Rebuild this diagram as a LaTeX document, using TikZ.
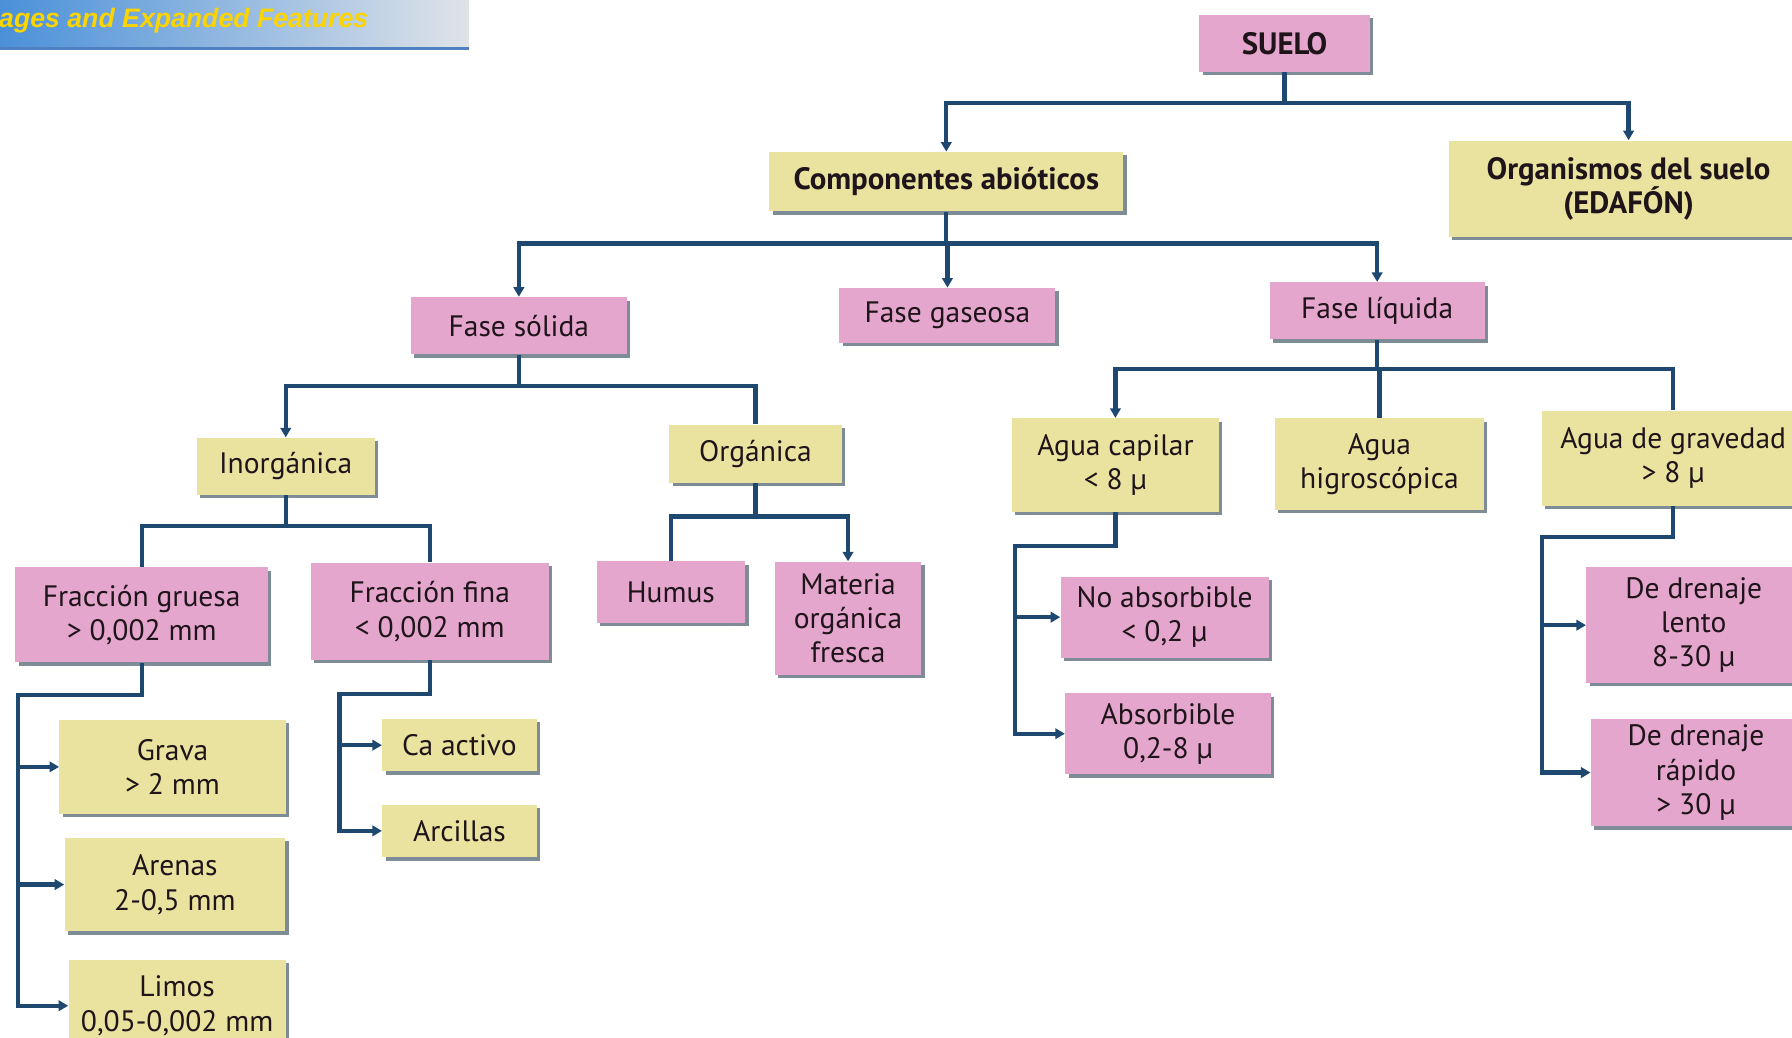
\documentclass[tikz,border=0pt]{standalone}
\usepackage{fontspec}
\setmainfont{PT Sans}
\newfontfamily\hdrfont{Liberation Sans}
\usetikzlibrary{shadows,arrows.meta,calc}

\definecolor{pinkbox}{RGB}{229,166,206}
\definecolor{yellowbox}{RGB}{234,227,160}
\definecolor{connc}{RGB}{30,72,112}
\definecolor{shadowc}{RGB}{125,140,150}
\definecolor{txt}{RGB}{30,20,25}
\definecolor{hdrL}{RGB}{74,144,217}
\definecolor{hdrR}{RGB}{223,227,232}
\definecolor{hdrline}{RGB}{80,128,192}
\definecolor{hdrtext}{RGB}{252,212,0}

\tikzset{
 box/.style={draw=none, align=center, inner sep=2pt, text=txt,
   font=\fontsize{15.5}{18}\selectfont,
   drop shadow={shadow xshift=1.8pt, shadow yshift=-1.8pt, fill=shadowc, opacity=1}},
 pbox/.style={box, fill=pinkbox},
 ybox/.style={box, fill=yellowbox},
 bbold/.style={font=\fontsize{16.2}{18}\selectfont\bfseries},
 sz/.style 2 args={minimum width=#1*0.6pt, minimum height=#2*0.6pt},
 link/.style={draw=connc, line width=2.3pt},
 arr/.style={link, -{Triangle[length=5pt,width=5.5pt]}},
}

\begin{document}
\begin{tikzpicture}[x=0.6pt,y=-0.6pt]
\useasboundingbox (0,0) rectangle (1568,908);
\clip (0,0) rectangle (1568,908);
\fill[white] (0,0) rectangle (1568,908);

% header banner
\shade[left color=hdrL, right color=hdrR] (0,0) rectangle (410,42);
\draw[hdrline, line width=1.2pt] (0,42.5) -- (410,42.5);
\node[anchor=base west, inner sep=0pt, text=hdrtext, font=\hdrfont\fontsize{14}{16}\selectfont\bfseries\itshape] (hdr) at (-1,24) {ages and Expanded Features};

% nodes
\node[pbox, bbold, sz={149}{50}] (suelo) at (1124,38) {SUELO};
\node[ybox, bbold, sz={310}{52}] (comp) at (828,159) {Componentes abióticos};
\node[ybox, bbold, sz={315}{84}] (org) at (1425,165) {Organismos del suelo\\(EDAFÓN)};

\node[pbox, sz={189}{50}] (solida) at (454,285) {Fase sólida};
\node[pbox, sz={189}{48}] (gaseosa) at (829,276) {Fase gaseosa};
\node[pbox, sz={188}{50}] (liquida) at (1205,272) {Fase líquida};

\node[ybox, sz={156}{50}] (inorg) at (250,408) {Inorgánica};
\node[ybox, sz={151}{51}] (organica) at (661,397) {Orgánica};

\node[pbox, sz={221}{83}] (gruesa) at (124,538) {Fracción gruesa\\> 0,002 mm};
\node[pbox, sz={208}{85}] (fina) at (376,535) {Fracción fina\\< 0,002 mm};
\node[pbox, sz={130}{54}] (humus) at (587,518) {Humus};
\node[pbox, sz={128}{99}] (materia) at (742,541) {Materia\\orgánica\\fresca};

\node[ybox, sz={181}{82}] (capilar) at (976,407) {Agua capilar\\< 8 µ};
\node[ybox, sz={183}{80}] (higro) at (1207,406) {Agua\\higroscópica};
\node[ybox, sz={230}{83}] (gravedad) at (1464,401) {Agua de gravedad\\> 8 µ};

\node[ybox, sz={198}{82}] (grava) at (151,671) {Grava\\> 2 mm};
\node[ybox, sz={193}{82}] (arenas) at (153,774) {Arenas\\2-0,5 mm};
\node[ybox, sz={190}{80}] (limos) at (155,880) {Limos\\0,05-0,002 mm};

\node[ybox, sz={135}{46}] (caactivo) at (402,652) {Ca activo};
\node[ybox, sz={135}{46}] (arcillas) at (402,727) {Arcillas};

\node[pbox, sz={182}{71}] (noabs) at (1019,540) {No absorbible\\< 0,2 µ};
\node[pbox, sz={180}{71}] (abs) at (1022,642) {Absorbible\\0,2-8 µ};

\node[pbox, sz={188}{101}] (lento) at (1482,547) {De drenaje\\lento\\8-30 µ};
\node[pbox, sz={184}{94}] (rapido) at (1484,676) {De drenaje\\rápido\\> 30 µ};

% bus coordinates
\coordinate (b1) at (0,90);
\coordinate (b2) at (0,213);
\coordinate (b3) at (0,338);
\coordinate (b4) at (0,460);
\coordinate (b5) at (0,452);
\coordinate (b6) at (0,323);
\coordinate (s1) at (16,608);
\coordinate (s2) at (297,607);
\coordinate (s3) at (888,478);
\coordinate (s4) at (1349,470);

% SUELO
\draw[link] (suelo.south) -- (suelo.south |- b1);
\draw[arr] (suelo.south |- b1) -| (comp.north);
\draw[arr] (suelo.south |- b1) -| (org.north);
% Componentes
\draw[link] (comp.south) -- (comp.south |- b2);
\draw[arr] (comp.south |- b2) -| (solida.north);
\draw[arr] (comp.south |- b2) -| (gaseosa.north);
\draw[arr] (comp.south |- b2) -| (liquida.north);
% Fase solida
\draw[link] (solida.south) -- (solida.south |- b3);
\draw[arr] (solida.south |- b3) -| (inorg.north);
\draw[link] (solida.south |- b3) -| (organica.north);
% Inorganica
\draw[link] (inorg.south) -- (inorg.south |- b4);
\draw[link] (inorg.south |- b4) -| (gruesa.north);
\draw[link] (inorg.south |- b4) -| (fina.north);
% Organica
\draw[link] (organica.south) -- (organica.south |- b5);
\draw[link] (organica.south |- b5) -| (humus.north);
\draw[arr] (organica.south |- b5) -| (materia.north);
% Fase liquida
\draw[link] (liquida.south) -- (liquida.south |- b6);
\draw[arr] (liquida.south |- b6) -| (capilar.north);
\draw[link] (liquida.south |- b6) -| (higro.north);
\draw[link] (liquida.south |- b6) -| (gravedad.north);

% side brackets
\draw[arr] (gruesa.south) |- (s1) |- (limos.west);
\draw[arr] (s1 |- grava.west) -- (grava.west);
\draw[arr] (s1 |- arenas.west) -- (arenas.west);

\draw[arr] (fina.south) |- (s2) |- (arcillas.west);
\draw[arr] (s2 |- caactivo.west) -- (caactivo.west);

\draw[arr] (capilar.south) |- (s3) |- (abs.west);
\draw[arr] (s3 |- noabs.west) -- (noabs.west);

\draw[arr] (gravedad.south) |- (s4) |- (rapido.west);
\draw[arr] (s4 |- lento.west) -- (lento.west);
\end{tikzpicture}
\end{document}
